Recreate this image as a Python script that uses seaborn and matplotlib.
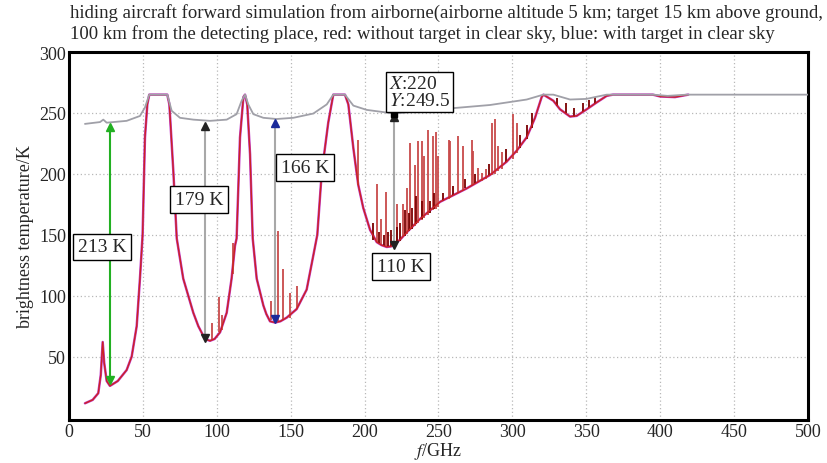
import matplotlib
matplotlib.use("Agg")
import matplotlib.pyplot as plt
import seaborn as sns
import pandas as pd

# ---------------- data ----------------
upper_f = [10.8, 21, 23.2, 25.5, 39, 48, 51.4, 54.3, 66.5, 69.5, 75.1, 84.1, 95.4,
           106.7, 113.4, 116.8, 119.1, 121.3, 124.7, 131.5, 140.5, 151.8, 165.3,
           174.4, 178.8, 186.7, 192.4, 201.4, 220, 251, 284.8, 309.7, 320.9, 327.7,
           339, 350, 363.8, 395, 405, 418, 500]
upper_T = [241, 242.5, 244.5, 242, 243.5, 247.5, 254.5, 265, 265, 251.7, 246, 244.5,
           243.5, 244.5, 249, 260, 265, 257, 249, 246, 245, 246, 249.5,
           257, 265, 265, 256, 252.5, 249.5, 253, 256.5, 261, 265, 265,
           261, 261.5, 265, 265, 264, 265, 265]

lower_f = [10.8, 16, 19.8, 21.5, 22.8, 23.8, 25.5, 27.7, 33, 39, 42.4, 45.8, 48,
           49.8, 51.4, 53, 54.3, 66.5, 67.9, 70.6, 72.9, 77.3, 84.1, 87.5, 90.9, 93,
           95.4, 98.5, 102.2, 106.7, 110, 112.3, 113.4, 115.7, 118, 119.1, 120.6,
           122.5, 124.3, 127, 131.5, 133.5, 136, 139.4, 143, 147.3, 154, 160.8, 165.3,
           168, 171, 175.4, 178.8, 186.7, 189, 192.4, 195.7, 199.1, 203.7, 208.2,
           211.5, 215, 218, 220.6, 224, 228.5, 237.5, 251, 269, 284.8, 296.1, 302.9,
           309.7, 315.3, 319.8, 321, 327.7, 332.2, 339, 343.5, 350.3, 357, 363.8,
           368, 395, 400, 410, 419]
lower_T = [11.7, 14.5, 20, 35, 62, 45, 30, 26, 30, 39, 50, 75, 114,
           150, 230, 257, 265, 265, 257, 202, 147, 114, 86, 75, 67, 64,
           63, 64.5, 70, 86, 114, 141, 147, 230, 263, 265, 257,
           216, 147, 114, 92, 85, 79, 78, 79, 82, 89, 105, 133,
           150, 201, 242, 265, 265, 257, 221, 191, 172, 154, 144,
           141.5, 140, 140.5, 142.7, 146, 152, 163, 177, 188, 199, 210, 219,
           230, 246, 263, 265, 260, 253, 247, 247.6, 253, 258.6, 264,
           265, 265, 263.5, 263, 265]

# tall spikes of the "without target" spectrum
spike_f = [96.5, 101.7, 103.3, 111.2, 136.5, 141.6, 144.8, 149.3, 154,
           195.7, 208.2, 211, 214.5, 221.7, 226.3, 228.9, 231, 234, 236.4, 238.6,
           240.4, 242.8, 246.5, 248, 249.9, 256.8, 258, 263.2, 266.8, 272.4, 273.6,
           277, 279.2, 282.1, 286, 288.2, 290.5, 292.7, 300.6, 302.9]
spike_base = [64, 70, 72, 118, 80, 79, 80, 82, 89,
              191, 144, 142, 141, 143, 148, 151, 154, 157, 160, 162,
              164, 166, 170, 171, 173, 179, 180, 184, 186, 190, 191,
              193, 194, 196, 199, 200, 202, 204, 212, 217]
spike_top = [78, 99, 84, 143, 96, 153, 122, 102, 108,
             228, 192, 163, 185, 175, 175, 188, 225, 207, 227, 227,
             215, 236, 231, 234, 215, 228, 227, 231, 223, 228, 219,
             205, 201, 204, 242, 245, 223, 218, 249, 242]

# short dark-red spikes
small_f = [206, 210, 213, 216, 218, 222, 224, 227, 230, 232, 235, 239, 244, 247,
           253, 260, 268, 275, 284, 296, 305, 310, 313,
           330, 336, 342, 348, 352, 356]
small_base = [146, 143, 141, 140, 141, 143, 145, 149, 153, 155, 159, 163, 168, 171,
              178, 183, 188, 192, 198, 210, 221, 229, 238,
              256, 250, 247, 251, 254, 257]
small_top = [160, 152, 150, 152, 154, 156, 160, 170, 168, 172, 182, 178, 178, 184,
             184, 190, 196, 200, 208, 220, 232, 240, 250,
             262, 258, 254, 258, 261, 263]

# difference arrows
arrow_f = [27.7, 92, 139.4, 220]
arrow_lo = [28, 63, 78, 139.5]
arrow_hi = [241, 242, 244, 249.5]
arrow_line_col = ["#22b022", "#a8a8a8", "#a8a8a8", "#a8a8a8"]
arrow_head_col = ["#22b022", "#222222", "#1a2a9a", "#222222"]
arrow_labels = ["213 K", "179 K", "166 K", "110 K"]
label_x = [22.3, 88, 159.7, 224.6]
label_y = [140, 179, 205, 124]

x_ticks = [0, 50, 100, 150, 200, 250, 300, 350, 400, 450, 500]
y_ticks = [50, 100, 150, 200, 250, 300]

title = ("hiding aircraft forward simulation from airborne(airborne altitude 5 km; target 15 km above ground,\n"
         "100 km from the detecting place, red: without target in clear sky, blue: with target in clear sky")

# ---------------- drawing ----------------
sns.set_theme(style="white")
plt.rcParams["font.family"] = ["Liberation Serif", "DejaVu Serif"]
plt.rcParams["mathtext.fontset"] = "stix"

fig = plt.figure(figsize=(8.28, 4.64), dpi=100)
ax = fig.add_axes([69 / 828, 1 - 421 / 464, (808 - 69) / 828, (421 - 53) / 464])

up = pd.DataFrame({"f": upper_f, "T": upper_T})
lo = pd.DataFrame({"f": lower_f, "T": lower_T})

sns.lineplot(data=lo, x="f", y="T", ax=ax, color="#c03cc8", lw=1.8,
             sort=False, estimator=None, zorder=3)
ax.vlines(spike_f, spike_base, spike_top, colors="#c84a4a", lw=1.3, zorder=3.5)
ax.vlines(small_f, small_base, small_top, colors="#7a0000", lw=1.3, zorder=3.6)
sns.lineplot(data=lo, x="f", y="T", ax=ax, color="#cc2222", lw=1.0,
             sort=False, estimator=None, zorder=4)
sns.lineplot(data=up, x="f", y="T", ax=ax, color="#a0a0a8", lw=1.3,
             sort=False, estimator=None, zorder=5)

for f, a, b, lc, hc in zip(arrow_f, arrow_lo, arrow_hi, arrow_line_col, arrow_head_col):
    ax.plot([f, f], [a + 2, b - 2], color=lc, lw=1.5, zorder=6)
    ax.plot([f], [b - 2.5], marker="^", color=hc, ms=6, zorder=7)
    ax.plot([f], [a + 2.5], marker="v", color=hc, ms=6, zorder=7)

for t, x, y in zip(arrow_labels, label_x, label_y):
    ax.text(x, y, t, ha="center", va="center", fontsize=14, zorder=8,
            bbox=dict(boxstyle="square,pad=0.25", fc="white", ec="black", lw=1.0))

ax.plot([arrow_f[3]], [arrow_hi[3]], marker="s", color="black", ms=4, zorder=8)
ax.text(216.5, 253, r"$X$:220" + "\n" + r"$Y$:249.5", ha="left", va="bottom",
        fontsize=14, linespacing=1.05, zorder=8,
        bbox=dict(boxstyle="square,pad=0.15", fc="white", ec="black", lw=1.0))

ax.set_xlim(0, 500)
ax.set_ylim(-2, 300)
ax.set_xticks(x_ticks)
ax.set_yticks(y_ticks)
ax.tick_params(axis="both", labelsize=13, direction="in", length=4,
               color="#888888", width=1, pad=2)
ax.grid(True, color="#b8b8b8", linestyle=(0, (1, 2)), lw=0.9)
for s in ax.spines.values():
    s.set_color("black")
    s.set_linewidth(2.2)

ax.set_xlabel(r"$f$/GHz", fontsize=13, labelpad=0)
ax.set_ylabel("brightness temperature/K", fontsize=13, labelpad=4)

fig.text(70 / 828, 1 - 4 / 464, title, ha="left", va="top", fontsize=13.5,
         linespacing=1.25)

fig.savefig("out.png", dpi=100)
